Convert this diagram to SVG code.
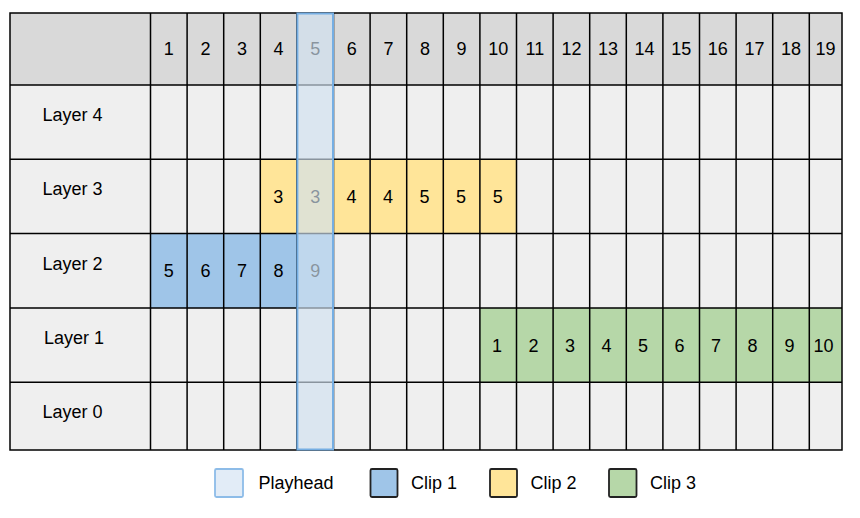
<svg xmlns="http://www.w3.org/2000/svg" width="860" height="518" viewBox="0 0 860 518">
<style>
text{font-family:"Liberation Sans",Arial,sans-serif;font-size:18px;fill:#000}
.n{text-anchor:middle}
.hd{fill:#d9d9d9}
.bd{fill:#efefef}
.grid{fill:none;stroke:#000;stroke-width:1.5}
.sw{stroke:#222;stroke-width:1.8}
</style>
<rect width="860" height="518" fill="#fff"/>
<g id="header">
<rect class="hd" x="10" y="13" width="832" height="72"/>
<g class="n">
<text x="168.8" y="55">1</text><text x="205.4" y="55">2</text><text x="242" y="55">3</text><text x="278.6" y="55">4</text><text x="315.2" y="55">5</text><text x="351.8" y="55">6</text><text x="388.4" y="55">7</text><text x="425" y="55">8</text><text x="461.6" y="55">9</text><text x="498.2" y="55">10</text><text x="534.8" y="55">11</text><text x="571.4" y="55">12</text><text x="608" y="55">13</text><text x="644.6" y="55">14</text><text x="681.2" y="55">15</text><text x="717.8" y="55">16</text><text x="754.4" y="55">17</text><text x="791" y="55">18</text><text x="825.6" y="55">19</text>
</g>
</g>
<g id="layer4"><rect class="bd" x="10" y="85" width="832" height="74.3"/><text x="42.5" y="121">Layer 4</text></g>
<g id="layer3"><rect class="bd" x="10" y="159.3" width="832" height="74.3"/><text x="42.5" y="195.3">Layer 3</text></g>
<g id="layer2"><rect class="bd" x="10" y="233.6" width="832" height="74.4"/><text x="42.5" y="269.6">Layer 2</text></g>
<g id="layer1"><rect class="bd" x="10" y="308" width="832" height="74.3"/><text x="44" y="344">Layer 1</text></g>
<g id="layer0"><rect class="bd" x="10" y="382.3" width="832" height="67.7"/><text x="42.5" y="418.3">Layer 0</text></g>
<g id="clip1">
<rect x="150.5" y="233.6" width="183" height="74.4" fill="#9fc5e8"/>
<g class="n"><text x="168.8" y="277.3">5</text><text x="205.4" y="277.3">6</text><text x="242" y="277.3">7</text><text x="278.6" y="277.3">8</text><text x="315.2" y="277.3">9</text></g>
</g>
<g id="clip2">
<rect x="260.3" y="159.3" width="256.2" height="74.3" fill="#ffe599"/>
<g class="n"><text x="278.3" y="203">3</text><text x="315.2" y="203">3</text><text x="351.5" y="203">4</text><text x="388" y="203">4</text><text x="424.5" y="203">5</text><text x="461" y="203">5</text><text x="497.8" y="203">5</text></g>
</g>
<g id="clip3">
<rect x="479.9" y="308" width="362.1" height="74.3" fill="#b6d7a8"/>
<g class="n"><text x="497" y="351.6">1</text><text x="533.5" y="351.6">2</text><text x="570" y="351.6">3</text><text x="606.5" y="351.6">4</text><text x="643" y="351.6">5</text><text x="679.5" y="351.6">6</text><text x="716" y="351.6">7</text><text x="752.5" y="351.6">8</text><text x="789.5" y="351.6">9</text><text x="823.5" y="351.6">10</text></g>
</g>
<g id="grid">
<path class="grid" d="M150.5 13V450M187.1 13V450M223.7 13V450M260.3 13V450M296.9 13V450M333.5 13V450M370.1 13V450M406.7 13V450M443.3 13V450M479.9 13V450M516.5 13V450M553.1 13V450M589.7 13V450M626.3 13V450M662.9 13V450M699.5 13V450M736.1 13V450M772.7 13V450M809.3 13V450M10 85H842M10 159.3H842M10 233.6H842M10 308H842M10 382.3H842"/>
<rect class="grid" x="10" y="13" width="832" height="437"/>
</g>
<g id="playhead">
<rect x="297.4" y="13.5" width="35.6" height="436" fill="#d0e0f0" fill-opacity="0.66" stroke="#75aee3" stroke-width="2"/>
</g>
<g id="legend">
<g id="legend-playhead"><rect x="215" y="469" width="28" height="28" rx="1.5" fill="#e2ecf7" stroke="#8dbce8" stroke-width="1.8"/><text x="258.5" y="489">Playhead</text></g>
<g id="legend-clip1"><rect class="sw" x="370.5" y="469" width="27" height="28" rx="1.5" fill="#9fc5e8"/><text x="411" y="489">Clip 1</text></g>
<g id="legend-clip2"><rect class="sw" x="490" y="469" width="27" height="28" rx="1.5" fill="#ffe599"/><text x="530.5" y="489">Clip 2</text></g>
<g id="legend-clip3"><rect class="sw" x="609" y="469" width="27.5" height="28" rx="1.5" fill="#b6d7a8"/><text x="650" y="489">Clip 3</text></g>
</g>
</svg>
